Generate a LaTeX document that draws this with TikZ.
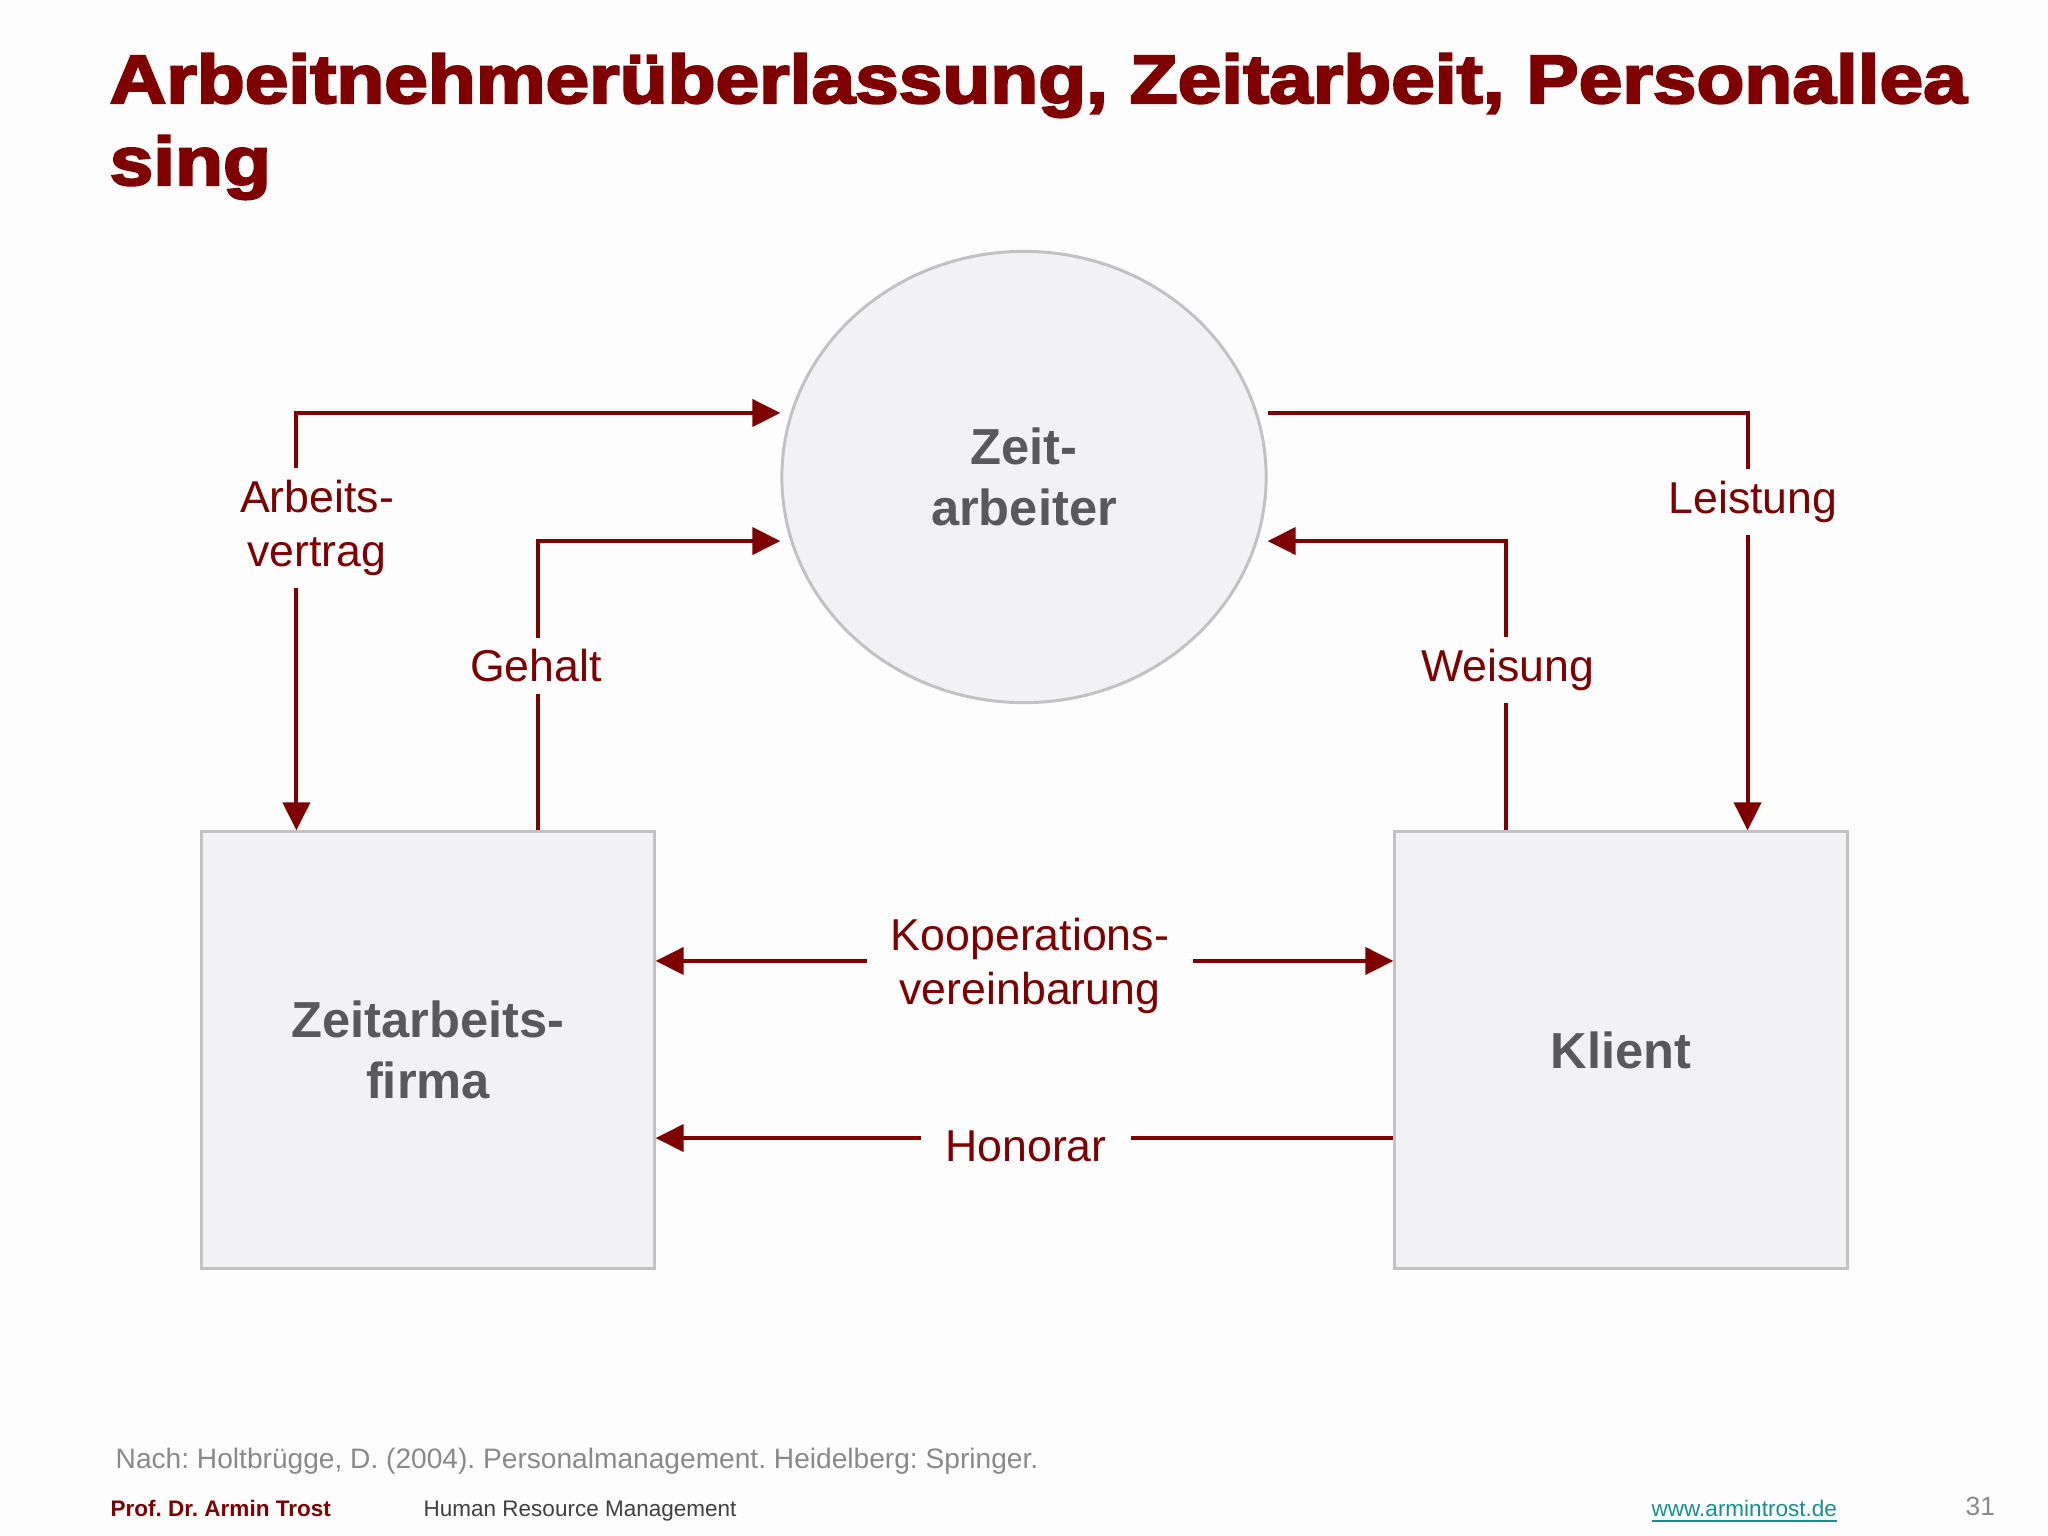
\documentclass[tikz,border=0pt]{standalone}
\usepackage{fontspec}
\setmainfont{Liberation Sans}
\newfontfamily\titlefont[FakeBold=3]{Liberation Sans}
\usepackage{graphicx}
\usepackage{xcolor}
\usetikzlibrary{shapes.geometric}
\usetikzlibrary{arrows.meta}
\definecolor{dunkelrot}{HTML}{7F0000}
\definecolor{grau}{HTML}{59595B}
\definecolor{hellgrau}{HTML}{F2F1F4}
\definecolor{rand}{HTML}{C2C2C2}
\definecolor{fussgrau}{HTML}{8A8A8A}
\definecolor{petrol}{HTML}{178F8F}
\definecolor{hg}{HTML}{FDFDFD}
\frenchspacing
\tikzstyle{every picture}+=[x=0.01cm,y=-0.01cm]
\tikzstyle{pfeil}=[draw=dunkelrot,line width=0.04cm,-{Triangle[length=0.28cm,width=0.27cm]}]
\tikzstyle{doppelpfeil}=[pfeil,{Triangle[length=0.28cm,width=0.27cm]}-{Triangle[length=0.28cm,width=0.27cm]}]

\begin{document}
\begin{tikzpicture}[
	kasten/.style={draw=rand,fill=hellgrau,line width=0.03cm,minimum width=4.52cm,minimum height=4.36cm,
		text=grau,align=center,font=\bfseries\fontsize{14.4}{17.4}\selectfont},
	marke/.style={fill=hg,text=dunkelrot,align=center,inner xsep=0.24cm,inner ysep=0.12cm,
		font=\fontsize{12.7}{15.4}\selectfont},
	fuss/.style={anchor=base west,inner sep=0pt}]
\fill[hg] (0,0) rectangle (2048,1536);
\node [anchor=base west,inner sep=0pt,text=dunkelrot,font=\titlefont\bfseries\fontsize{19.5}{23.3}\selectfont] (t1) at (109,103)
	{\scalebox{1.144}[1]{Arbeitnehmerüberlassung, Zeitarbeit, Personallea}};
\node [anchor=base west,inner sep=0pt,text=dunkelrot,font=\titlefont\bfseries\fontsize{19.5}{23.3}\selectfont] (t2) at (109,185)
	{\scalebox{1.144}[1]{sing}};
\node [kasten,ellipse,minimum width=4.84cm,minimum height=4.51cm,inner sep=0pt] (z) at (1024,477) {Zeit-\\arbeiter};
\node [kasten] (f) at (428,1050) {Zeitarbeits-\\firma};
\node [kasten] (k) at (1621,1050) {Klient};
\draw [doppelpfeil] ([yshift=0.64cm]z.west) -| ([xshift=0.96cm]f.north west);
\draw [pfeil] ([xshift=3.37cm]f.north west) |- ([yshift=-0.64cm]z.west);
\draw [pfeil] ([yshift=0.64cm]z.east) -| ([xshift=3.54cm]k.north west);
\draw [pfeil] ([xshift=1.13cm]k.north west) |- ([yshift=-0.64cm]z.east);
\draw [doppelpfeil] ([yshift=0.89cm]f.east) -- ([yshift=0.89cm]k.west);
\draw [pfeil] ([yshift=-0.88cm]k.west) -- ([yshift=-0.88cm]f.east);
\node [marke] (av) at (317,528) {Arbeits-\\vertrag};
\node [marke] (g) at (536,666) {Gehalt};
\node [marke] (l) at (1753,502) {Leistung};
\node [marke] (w) at (1508,670) {Weisung};
\node [marke] (ko) at (1030,966) {Kooperations-\\vereinbarung};
\node [marke] (h) at (1026,1146) {Honorar};
\node [fuss,text=fussgrau,font=\fontsize{8}{9.6}\selectfont] (q) at (115,1468) {Nach: Holtbrügge, D. (2004). Personalmanagement. Heidelberg: Springer.};
\node [fuss,text=dunkelrot,font=\bfseries\fontsize{6.4}{7.7}\selectfont] (p) at (110,1516) {Prof. Dr. Armin Trost};
\node [fuss,text=black!75,font=\fontsize{6.4}{7.7}\selectfont] (hr) at (423,1516) {Human Resource Management};
\node [fuss,text=petrol,font=\fontsize{6.4}{7.7}\selectfont] (u) at (1651,1516) {\underline{www.armintrost.de}};
\node [fuss,text=fussgrau,font=\fontsize{7.5}{9}\selectfont] (n) at (1965,1515) {31};
\end{tikzpicture}
\end{document}
